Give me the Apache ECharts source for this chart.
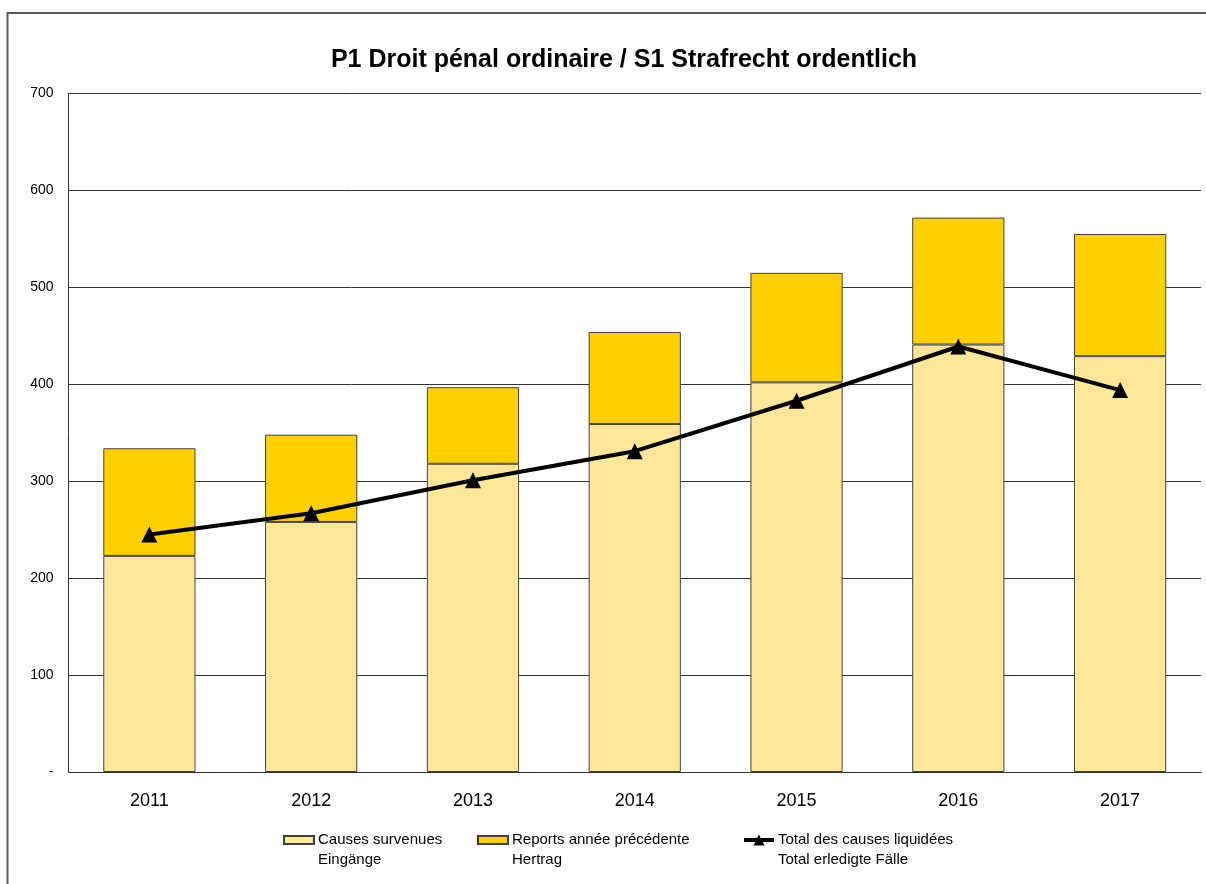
<!DOCTYPE html>
<html>
<head>
<meta charset="utf-8">
<script src="https://cdn.jsdelivr.net/npm/echarts@6/dist/echarts.min.js"></script>
<style>
  html, body { margin: 0; padding: 0; background: #fff; }
  #container { width: 1206px; height: 884px; }
</style>
</head>
<body>
<div id="container"></div>
<script>
var years = ['2011', '2012', '2013', '2014', '2015', '2016', '2017'];
var eingaenge = [223, 258, 318, 359, 402, 441, 429];
var hertrag = [111, 90, 79, 95, 113, 131, 126];
var erledigt = [245, 267, 301, 331, 383, 439, 394];
var yTicks = [0, 100, 200, 300, 400, 500, 600, 700];

var nameEin = 'Causes survenues\nEingänge';
var nameHer = 'Reports année précédente\nHertrag';
var nameErl = 'Total des causes liquidées\nTotal erledigte Fälle';

var font = '"Liberation Sans", Arial, sans-serif';

var myChart = echarts.init(document.getElementById('container'));

// one legend per item, Excel places them in fixed columns
function makeLegend(name, left, icon) {
    var lg = {
        top: 810,
        left: left,
        padding: 0,
        itemWidth: 30,
        itemHeight: icon ? 8 : 14,
        itemGap: 0,
        selectedMode: false,
        data: [name],
        // leading blank line so the icon sits next to the first line
        formatter: function (n) { return '\n' + n; },
        textStyle: { fontSize: 15, color: '#000', lineHeight: 20, fontFamily: font, padding: [0, 0, 0, -1] }
    };
    if (icon) {
        lg.icon = icon;
    } else {
        lg.lineStyle = { width: 4, color: '#000' };
    }
    return lg;
}

var option = {
    animation: false,
    textStyle: { fontFamily: font },
    title: {
        text: 'P1 Droit pénal ordinaire / S1 Strafrecht ordentlich',
        left: 619,
        textAlign: 'center',
        top: 43,
        textStyle: { fontSize: 25, fontWeight: 'bold', color: '#000', fontFamily: font }
    },
    graphic: [{
        type: 'polyline',
        shape: { points: [[7.5, 884], [7.5, 13], [1206, 13]] },
        style: { stroke: '#5a5a5a', lineWidth: 2, fill: null }
    }],
    grid: { left: 68.5, right: 5, top: 93.5, bottom: 112 },
    legend: [
        makeLegend(nameEin, 283, 'rect'),
        makeLegend(nameHer, 477, 'rect'),
        makeLegend(nameErl, 742, null)
    ],
    xAxis: {
        type: 'category',
        data: years,
        axisLine: { lineStyle: { color: '#333', width: 1 } },
        axisTick: { show: false },
        axisLabel: { fontSize: 18, color: '#000', margin: 20 }
    },
    yAxis: {
        type: 'value',
        min: 0,
        max: 700,
        interval: 100,
        axisLine: { show: true, lineStyle: { color: '#333' } },
        axisTick: { show: false },
        axisLabel: {
            fontSize: 14,
            color: '#000',
            margin: 15,
            formatter: function (v) { return yTicks.indexOf(v) === 0 ? '-' : String(v); }
        },
        splitLine: { lineStyle: { color: '#333', width: 1 } }
    },
    series: [{
        name: nameEin,
        type: 'bar',
        stack: 'total',
        barWidth: '57%',
        data: eingaenge,
        itemStyle: { color: '#FFE699', borderColor: '#404040', borderWidth: 1 }
    }, {
        name: nameHer,
        type: 'bar',
        stack: 'total',
        data: hertrag,
        itemStyle: { color: '#FFD000', borderColor: '#404040', borderWidth: 1 }
    }, {
        name: nameErl,
        type: 'line',
        data: erledigt,
        symbol: 'triangle',
        symbolSize: 16,
        z: 5,
        lineStyle: { color: '#000', width: 4 },
        itemStyle: { color: '#000' }
    }]
};

myChart.setOption(option);
</script>
</body>
</html>
